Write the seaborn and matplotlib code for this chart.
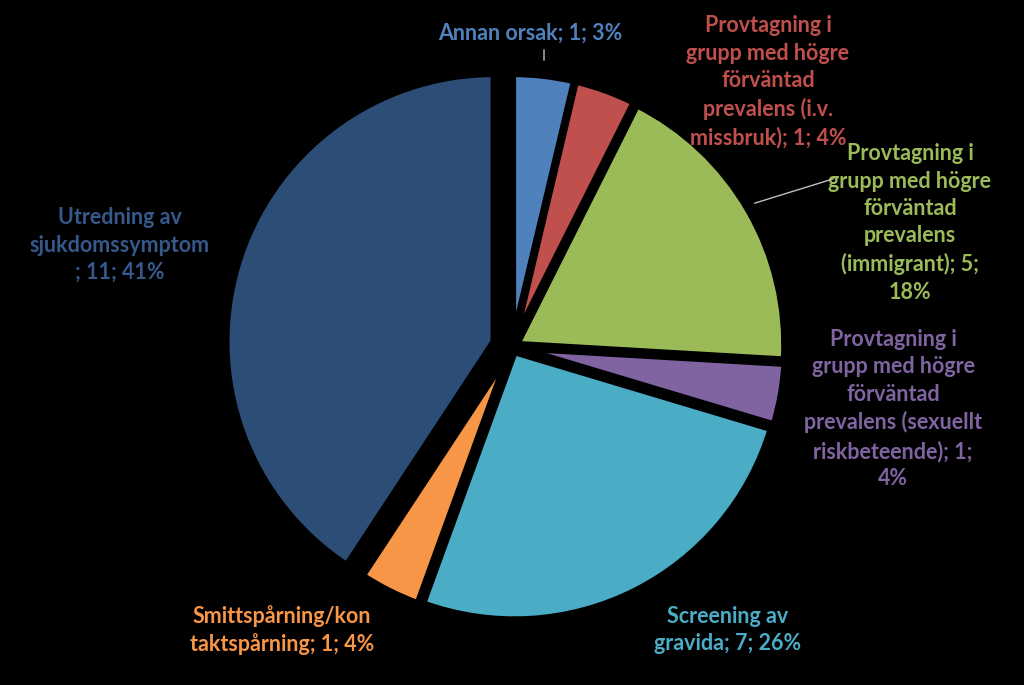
import matplotlib
matplotlib.use("Agg")
import matplotlib.pyplot as plt
import seaborn as sns

# Data (clockwise from 12 o'clock)
categories = [
    "Annan orsak",
    "Provtagning i\ngrupp med högre\nförväntad\nprevalens (i.v.\nmissbruk)",
    "Provtagning i\ngrupp med högre\nförväntad\nprevalens\n(immigrant)",
    "Provtagning i\ngrupp med högre\nförväntad\nprevalens (sexuellt\nriskbeteende)",
    "Screening av\ngravida",
    "Smittspårning/kon\ntaktspårning",
    "Utredning av\nsjukdomssymptom\n",
]
counts = [1, 1, 5, 1, 7, 1, 11]
percents = [3, 4, 18, 4, 26, 4, 41]

colors = ["#4F81BD", "#C0504D", "#9BBB59", "#8064A2", "#4BACC6", "#F79646", "#2C4D75"]
text_colors = ["#4F81BD", "#C0504D", "#9BBB59", "#8064A2", "#4BACC6", "#F79646", "#35598A"]
explode = [0.02, 0.02, 0.02, 0.02, 0.02, 0.02, 0.07]

sns.set_theme(style="white")
plt.rcParams["font.family"] = ["Lato", "DejaVu Sans"]

W, H = 1024, 685
R = 268.0  # pie radius in pixels
cx, cy = 512.0, 347.0  # pie centre in pixels (from top-left)

fig = plt.figure(figsize=(W / 100, H / 100), dpi=100, facecolor="black")
ax = fig.add_axes([0, 0, 1, 1])
ax.set_facecolor("black")
ax.axis("off")

ax.pie(counts, colors=colors, startangle=90, counterclock=False, explode=explode,
       radius=1.0, wedgeprops=dict(edgecolor="black", linewidth=5))
ax.set_aspect("equal")
ax.set_xlim(-cx / R, (W - cx) / R)
ax.set_ylim(-(H - cy) / R, cy / R)


def px(x, y):
    return (x - cx) / R, (cy - y) / R


# label text built from the data; two labels wrap before the percent
labels = [f"{name}; {n}; {p}%" for name, n, p in zip(categories, counts, percents)]
labels[2] = f"{categories[2]}; {counts[2]};\n{percents[2]}%"
labels[3] = f"{categories[3]}; {counts[3]};\n{percents[3]}%"

label_pos = [(530, 33), (768, 82), (910, 223), (893, 409), (728, 630), (282, 630), (120, 245)]

for lab, pos, c in zip(labels, label_pos, text_colors):
    x, y = px(*pos)
    ax.text(x, y, lab, ha="center", va="center", color=c, fontsize=15.5,
            fontweight="bold", linespacing=1.38)

# leader lines
for (x0, y0), (x1, y1) in [((544, 47), (544, 63)), ((752, 204), (836, 178))]:
    ax.annotate("", xy=px(x0, y0), xytext=px(x1, y1),
                arrowprops=dict(arrowstyle="-", color="#BFBFBF", lw=1))

fig.savefig("out.png", dpi=100, facecolor="black")
